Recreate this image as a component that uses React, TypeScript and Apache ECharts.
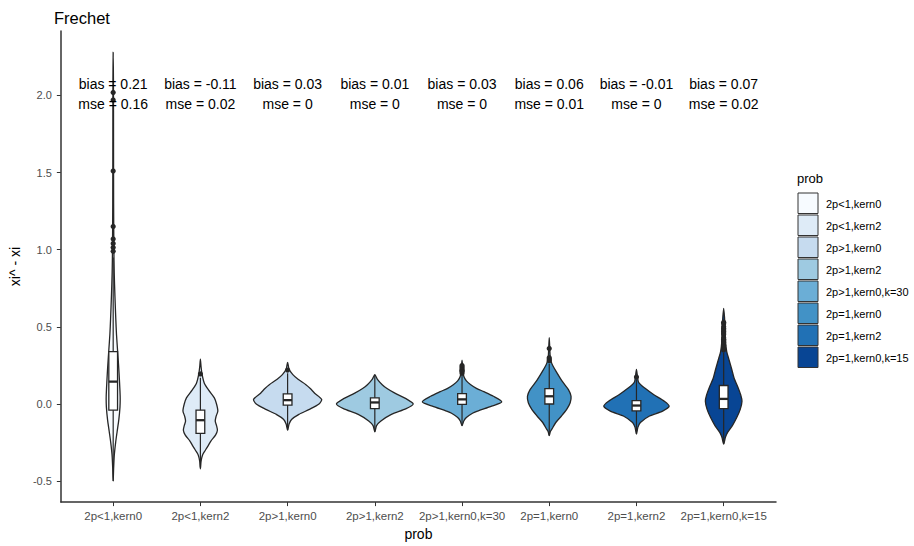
import React, { useEffect, useRef } from "react";
import * as echarts from "echarts";

const FONT = "'Liberation Sans', Arial, Helvetica, sans-serif";

const categories = [
  "2p<1,kern0",
  "2p<1,kern2",
  "2p>1,kern0",
  "2p>1,kern2",
  "2p>1,kern0,k=30",
  "2p=1,kern0",
  "2p=1,kern2",
  "2p=1,kern0,k=15",
];

const fillColors = ["#F7FBFF", "#DEEBF7", "#C6DBEF", "#9ECAE1", "#6BAED6", "#4292C6", "#2171B5", "#084594"];

const biasLabels = ["bias = 0.21", "bias = -0.11", "bias = 0.03", "bias = 0.01", "bias = 0.03", "bias = 0.06", "bias = -0.01", "bias = 0.07"];
const mseLabels = ["mse = 0.16", "mse = 0.02", "mse = 0", "mse = 0", "mse = 0", "mse = 0.01", "mse = 0", "mse = 0.02"];
const labelY = 2.01;

const yTicks = [-0.5, 0, 0.5, 1, 1.5, 2];
const xTicks = [1, 2, 3, 4, 5, 6, 7, 8];

// violin profiles: [value, half-width in category units], bottom to top
const violin1 = [[-0.5, 0], [-0.42, 0.005], [-0.33, 0.013], [-0.25, 0.028], [-0.18, 0.045], [-0.1, 0.065], [-0.02, 0.078], [0.05, 0.08], [0.15, 0.072], [0.25, 0.062], [0.35, 0.05], [0.45, 0.038], [0.55, 0.03], [0.7, 0.02], [0.85, 0.012], [1.0, 0.008], [1.3, 0.005], [1.7, 0.004], [2.1, 0.003], [2.28, 0]];
const violin2 = [[-0.42, 0], [-0.37, 0.008], [-0.33, 0.025], [-0.3, 0.057], [-0.27, 0.09], [-0.24, 0.12], [-0.2, 0.175], [-0.17, 0.195], [-0.14, 0.185], [-0.11, 0.17], [-0.08, 0.18], [-0.045, 0.2], [0.0, 0.185], [0.04, 0.16], [0.09, 0.095], [0.135, 0.045], [0.19, 0.02], [0.24, 0.008], [0.29, 0]];
const violin3 = [[-0.17, 0], [-0.13, 0.017], [-0.1, 0.045], [-0.067, 0.13], [-0.035, 0.25], [0.0, 0.36], [0.03, 0.39], [0.07, 0.31], [0.1, 0.26], [0.125, 0.21], [0.16, 0.12], [0.19, 0.06], [0.225, 0.017], [0.27, 0]];
const violin4 = [[-0.18, 0], [-0.14, 0.02], [-0.11, 0.07], [-0.067, 0.19], [-0.03, 0.36], [0.0, 0.44], [0.03, 0.37], [0.07, 0.23], [0.1, 0.14], [0.125, 0.085], [0.16, 0.03], [0.19, 0]];
const violin5 = [[-0.14, 0], [-0.11, 0.02], [-0.088, 0.05], [-0.06, 0.12], [-0.046, 0.18], [-0.014, 0.34], [0.014, 0.455], [0.05, 0.36], [0.08, 0.25], [0.1, 0.17], [0.125, 0.1], [0.15, 0.05], [0.18, 0.02], [0.22, 0.01], [0.285, 0]];
const violin6 = [[-0.205, 0], [-0.18, 0.012], [-0.163, 0.03], [-0.12, 0.075], [-0.078, 0.14], [-0.035, 0.2], [0.008, 0.24], [0.05, 0.25], [0.093, 0.22], [0.146, 0.15], [0.21, 0.08], [0.25, 0.04], [0.27, 0.025], [0.3, 0.012], [0.36, 0.006], [0.43, 0]];
const violin7 = [[-0.195, 0], [-0.15, 0.017], [-0.12, 0.045], [-0.078, 0.15], [-0.046, 0.3], [-0.014, 0.375], [0.018, 0.32], [0.06, 0.2], [0.103, 0.095], [0.14, 0.025], [0.175, 0.012], [0.225, 0]];
const violin8 = [[-0.26, 0], [-0.216, 0.02], [-0.184, 0.045], [-0.14, 0.1], [-0.088, 0.15], [-0.035, 0.19], [0.018, 0.21], [0.06, 0.195], [0.114, 0.16], [0.167, 0.12], [0.23, 0.09], [0.295, 0.057], [0.34, 0.035], [0.4, 0.022], [0.5, 0.015], [0.56, 0.01], [0.62, 0]];
const violins = [violin1, violin2, violin3, violin4, violin5, violin6, violin7, violin8];

// boxplot statistics
const q1 = [-0.04, -0.19, -0.007, -0.03, -0.003, 0.0, -0.045, -0.03];
const medians = [0.145, -0.105, 0.025, 0.01, 0.03, 0.05, -0.01, 0.033];
const q3 = [0.34, -0.04, 0.065, 0.04, 0.067, 0.1, 0.022, 0.12];
const whiskerLow = [-0.5, -0.41, -0.17, -0.18, -0.14, -0.205, -0.195, -0.26];
const whiskerHigh = [0.95, 0.17, 0.2, 0.19, 0.19, 0.26, 0.16, 0.33];
const outliers = [
  [0.99, 1.015, 1.04, 1.07, 1.15, 1.51, 1.97, 2.02],
  [0.195],
  [0.22],
  [],
  [0.2, 0.21, 0.215, 0.22, 0.23, 0.24, 0.25],
  [0.28, 0.29, 0.3, 0.36],
  [0.175],
  [0.35, 0.36, 0.37, 0.38, 0.4, 0.41, 0.42, 0.43, 0.45, 0.46, 0.47, 0.48, 0.49, 0.5, 0.52, 0.53],
];

const BOX_HALF = 0.05;

export default function App() {
  const ref = useRef<HTMLDivElement>(null);

  useEffect(() => {
    if (!ref.current) return;
    const chart = echarts.init(ref.current, undefined, { renderer: "svg" });

    const renderItem = (params: any, api: any) => {
      const i = params.dataIndex;
      const cx = api.value(0);
      const prof = violins[i];
      const right = prof.map(([y, hw]) => api.coord([cx + hw, y]));
      const left = prof
        .slice(1, prof.length - 1)
        .reverse()
        .map(([y, hw]) => api.coord([cx - hw, y]));
      const pts = right.concat(left);
      const children: any[] = [];
      children.push({
        type: "polygon",
        shape: { points: pts, smooth: 0.25 },
        style: { fill: fillColors[i], stroke: "#262626", lineWidth: 1.3 },
      });
      const wl = api.coord([cx, whiskerLow[i]]);
      const wh = api.coord([cx, whiskerHigh[i]]);
      children.push({
        type: "line",
        shape: { x1: wl[0], y1: wl[1], x2: wh[0], y2: wh[1] },
        style: { stroke: "#262626", lineWidth: 1.2 },
      });
      const tl = api.coord([cx - BOX_HALF, q3[i]]);
      const br = api.coord([cx + BOX_HALF, q1[i]]);
      children.push({
        type: "rect",
        shape: { x: tl[0], y: tl[1], width: br[0] - tl[0], height: br[1] - tl[1] },
        style: { fill: "#ffffff", stroke: "#262626", lineWidth: 1.3 },
      });
      const ml = api.coord([cx - BOX_HALF, medians[i]]);
      const mr = api.coord([cx + BOX_HALF, medians[i]]);
      children.push({
        type: "line",
        shape: { x1: ml[0], y1: ml[1], x2: mr[0], y2: mr[1] },
        style: { stroke: "#262626", lineWidth: 2.3 },
      });
      outliers[i].forEach((v) => {
        const p = api.coord([cx, v]);
        children.push({
          type: "circle",
          shape: { cx: p[0], cy: p[1], r: 2.6 },
          style: { fill: "#262626" },
        });
      });
      const t = api.coord([cx, labelY]);
      children.push({
        type: "text",
        style: { text: biasLabels[i], x: t[0], y: t[1] - 10, align: "center", verticalAlign: "middle", fontSize: 14, fontFamily: FONT, fill: "#000" },
      });
      children.push({
        type: "text",
        style: { text: mseLabels[i], x: t[0], y: t[1] + 10, align: "center", verticalAlign: "middle", fontSize: 14, fontFamily: FONT, fill: "#000" },
      });
      return { type: "group", children };
    };

    const legendItems: any[] = [
      { type: "text", left: 797, top: 172, style: { text: "prob", fontSize: 13, fontFamily: FONT, fill: "#000" } },
    ];
    categories.forEach((c, k) => {
      legendItems.push({
        type: "rect",
        shape: { x: 798, y: 193 + k * 22, width: 20, height: 20.5 },
        style: { fill: fillColors[k], stroke: "#333", lineWidth: 1 },
      });
      legendItems.push({
        type: "text",
        x: 826,
        y: 203.5 + k * 22,
        style: { text: c, fontSize: 11, fontFamily: FONT, fill: "#000", verticalAlign: "middle" },
      });
    });

    chart.setOption({
      animation: false,
      textStyle: { fontFamily: FONT },
      title: {
        text: "Frechet",
        left: 49,
        top: 4,
        textStyle: { fontSize: 16.5, fontWeight: "normal", color: "#000", fontFamily: FONT },
      },
      grid: { left: 54, right: 138, top: 31, bottom: 37 },
      xAxis: {
        type: "value",
        min: 0.4,
        max: 8.6,
        name: "prob",
        nameLocation: "middle",
        nameGap: 21,
        nameTextStyle: { fontSize: 14, color: "#000", fontFamily: FONT },
        axisLine: { show: true, onZero: false, lineStyle: { color: "#333", width: 1.5 } },
        axisTick: { show: true, customValues: xTicks, length: 4, lineStyle: { color: "#333", width: 1 } },
        axisLabel: {
          customValues: xTicks,
          formatter: (v: number) => categories[Math.round(v) - 1] ?? "",
          color: "#4d4d4d",
          fontSize: 11.5,
          margin: 8,
          fontFamily: FONT,
        },
        splitLine: { show: false },
      },
      yAxis: {
        type: "value",
        min: -0.636,
        max: 2.418,
        name: "xi^ - xi",
        nameLocation: "middle",
        nameGap: 33,
        nameRotate: 90,
        nameTextStyle: { fontSize: 14, color: "#000", fontFamily: FONT },
        axisLine: { show: true, onZero: false, lineStyle: { color: "#333", width: 1.5 } },
        axisTick: { show: true, customValues: yTicks, length: 4, lineStyle: { color: "#333", width: 1 } },
        axisLabel: {
          customValues: yTicks,
          formatter: (v: number) => v.toFixed(1),
          color: "#4d4d4d",
          fontSize: 11,
          margin: 9,
          fontFamily: FONT,
        },
        splitLine: { show: false },
      },
      graphic: legendItems,
      series: [
        {
          type: "custom",
          renderItem,
          data: categories.map((_, i) => [i + 1]),
          encode: { x: 0 },
          clip: false,
        },
      ],
    });

    return () => chart.dispose();
  }, []);

  return <div ref={ref} style={{ width: 914, height: 546, position: "absolute", left: 0, top: 0 }} />;
}
